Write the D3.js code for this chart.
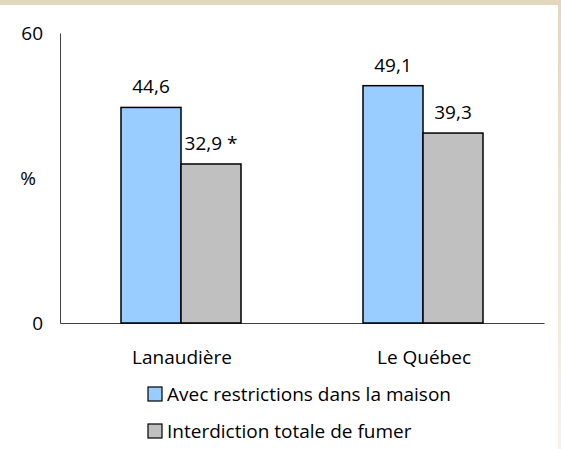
<!DOCTYPE html>
<html>
<head>
<meta charset="utf-8">
<script src="https://cdn.jsdelivr.net/npm/d3@7"></script>
<style>
  html, body { margin: 0; padding: 0; background: #fff; }
  svg { display: block; }
  text { font-family: "Open Sans", sans-serif; fill: #000; }
</style>
</head>
<body>
<script>
const categories = ["Lanaudière", "Le Québec"];
const seriesNames = ["Avec restrictions dans la maison", "Interdiction totale de fumer"];
const restrictions = [44.6, 49.1];
const interdiction = [32.9, 39.3];
const valueLabels = [["44,6", "49,1"], ["32,9 *", "39,3"]];
const yTicks = [0, 60];
const yTickLabels = ["0", "60"];
const yTitle = "%";
const colors = ["#99ccff", "#c0c0c0"];

const W = 561, H = 449;
const FS = "19px";
const svg = d3.select("body").append("svg").attr("width", W).attr("height", H);

// frame decoration
const defs = svg.append("defs");
const grad = defs.append("linearGradient").attr("id", "rg").attr("x1", 0).attr("y1", 0).attr("x2", 0).attr("y2", 1);
grad.append("stop").attr("offset", "0%").attr("stop-color", "#e3d7be");
grad.append("stop").attr("offset", "100%").attr("stop-color", "#f7f3ea");
svg.append("rect").attr("x", 0).attr("y", 0).attr("width", W).attr("height", 5).attr("fill", "#e3d7be");
svg.append("rect").attr("x", 558).attr("y", 0).attr("width", 3).attr("height", H).attr("fill", "url(#rg)");

const mLeft = 60, mRight = 544, mTop = 33, mBottom = 323;
const x0 = d3.scaleBand().domain(categories).range([mLeft, mRight]).paddingInner(0).paddingOuter(0);
const y = d3.scaleLinear().domain([0, 60]).range([mBottom, mTop]);
const barW = 60;

const series = [restrictions, interdiction];

// axes
const yAxis = d3.axisLeft(y).tickValues(yTicks).tickSize(0).tickPadding(17)
  .tickFormat((d, i) => yTickLabels[i]);
const gy = svg.append("g").attr("transform", `translate(${mLeft},0)`).call(yAxis);
gy.select(".domain").attr("stroke", "#404040");
gy.selectAll("text").style("font-family", '"Open Sans", sans-serif').style("font-size", FS).attr("fill", "#000");

svg.append("text").attr("x", 28).attr("y", y(30)).attr("text-anchor", "middle")
  .attr("dominant-baseline", "central").style("font-size", FS).text(yTitle);

const xAxis = d3.axisBottom(x0).tickSize(0).tickPadding(0);
const gx = svg.append("g").attr("transform", `translate(0,${mBottom})`).call(xAxis);
gx.select(".domain").attr("stroke", "#404040");
gx.selectAll("text").remove();

// bars
series.forEach((vals, s) => {
  svg.append("g").selectAll("rect").data(categories).join("rect")
    .attr("x", d => x0(d) + x0.bandwidth() / 2 - barW + s * barW)
    .attr("y", (d, i) => y(vals[i]))
    .attr("width", barW)
    .attr("height", (d, i) => y(0) - y(vals[i]))
    .attr("fill", colors[s])
    .attr("stroke", "#000")
    .attr("stroke-width", 1.5);
  svg.append("g").selectAll("text").data(categories).join("text")
    .attr("x", d => x0(d) + x0.bandwidth() / 2 - barW / 2 + s * barW)
    .attr("y", (d, i) => y(vals[i]) - 14)
    .attr("text-anchor", "middle")
    .style("font-size", FS)
    .text((d, i) => valueLabels[s][i]);
});

// category labels
svg.append("g").selectAll("text").data(categories).join("text")
  .attr("x", d => x0(d) + x0.bandwidth() / 2 + 1)
  .attr("y", 364)
  .attr("text-anchor", "middle")
  .style("font-size", FS)
  .text(d => d);

// legend
const lg = svg.append("g");
seriesNames.forEach((n, i) => {
  const yy = 387 + i * 37;
  lg.append("rect").attr("x", 148).attr("y", yy).attr("width", 14).attr("height", 14)
    .attr("fill", colors[i]).attr("stroke", "#000").attr("stroke-width", 1.2);
  lg.append("text").attr("x", 167).attr("y", yy + 14).style("font-size", FS).text(n);
});
</script>
</body>
</html>
